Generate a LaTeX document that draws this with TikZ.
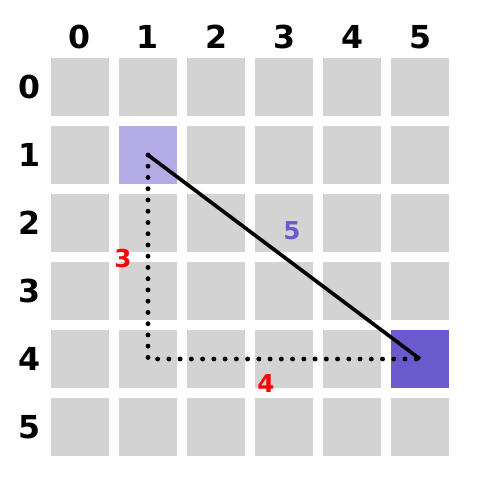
\documentclass[tikz,border=0pt]{standalone}
\usepackage{fontspec}
\setmainfont{DejaVu Sans}
\usetikzlibrary{positioning}

\definecolor{cellgray}{HTML}{D3D3D3}
\definecolor{slate}{HTML}{6A5ACD}
\definecolor{slatelight}{HTML}{B4ACE6}

\begin{document}
\begin{tikzpicture}[x=0.02cm,y=-0.02cm,
 cell/.style={fill=cellgray,minimum size=58*0.02cm,inner sep=0pt,outer sep=0pt},
 idx/.style={font=\fontsize{18}{21}\selectfont\bfseries,text height=13pt,text depth=0pt,inner sep=0pt},
 dist/.style={font=\fontsize{14}{17}\selectfont\bfseries,text=red,text height=10pt,text depth=0pt,inner sep=0pt},
 dots/.style={line width=2.8pt,line cap=round,dash pattern=on 0pt off 6.4pt}]
\useasboundingbox (0,0) rectangle (500,500);
% grid of cells
\foreach \i in {0,...,5} {
 \node[idx] (col-\i) at (80+68*\i,37) {\i};
 \node[idx] (row-\i) at (30,87+68*\i) {\i};
 \foreach \j in {0,...,5}
  \node[cell] (c-\i-\j) at (80+68*\i,87+68*\j) {};
}
\node[cell,fill=slatelight] at (c-1-1) {};
\node[cell,fill=slate] at (c-5-4) {};
\coordinate (corner) at (c-1-4.center);
% paths
\draw[dots] (c-1-1.center) -- (corner) -- (c-5-4.center);
\draw[line width=2.1pt] (c-1-1.center) -- (c-5-4.center);
% labels
\node[dist] (lbl-v) at (123,259) {3};
\node[dist] (lbl-h) at (266,384) {4};
\node[dist,text=slate] (lbl-d) at (292,231) {5};
\end{tikzpicture}
\end{document}
